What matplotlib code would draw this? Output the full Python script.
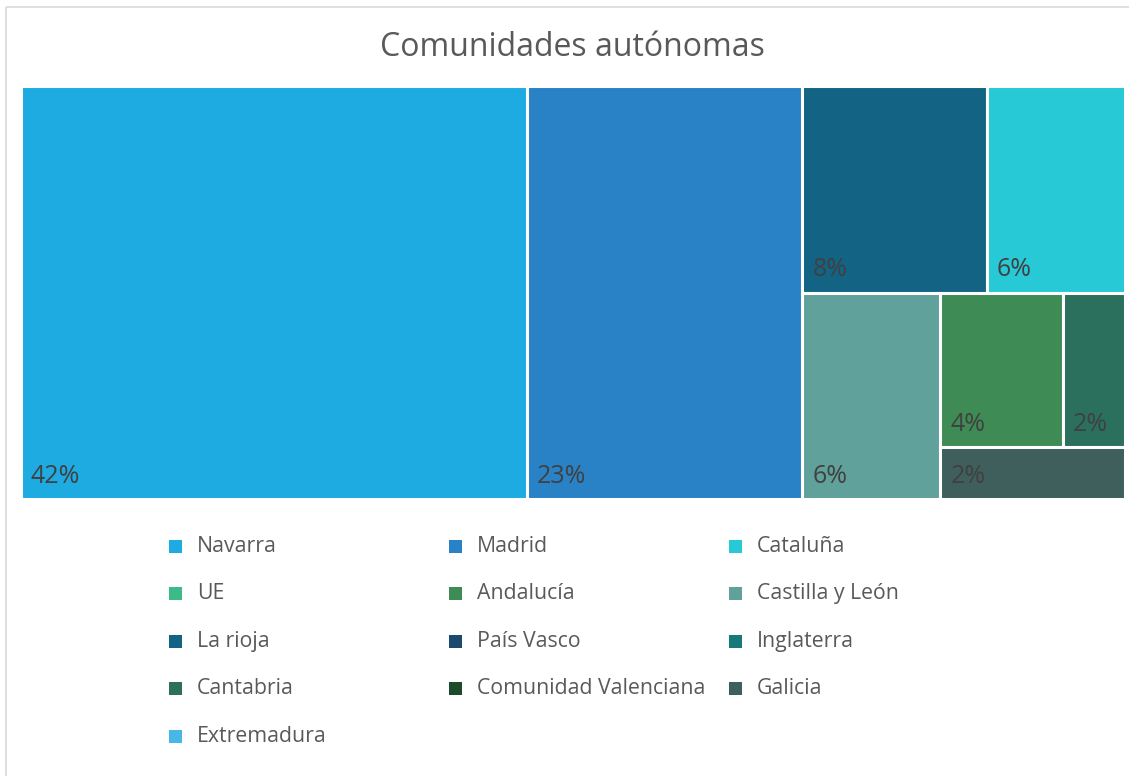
import matplotlib.pyplot as plt
from matplotlib.patches import Rectangle

# Datos: respuestas por comunidad (las que aparecen en el treemap)
comunidades = ["Navarra", "Madrid", "La rioja", "Cataluña", "Castilla y León",
               "Andalucía", "Cantabria", "Galicia"]
valores = [22, 12, 4, 3, 3, 2, 1, 1]
etiquetas = ["42%", "23%", "8%", "6%", "6%", "4%", "2%", "2%"]
colores = ["#1eabe2", "#2a82c6", "#136384", "#27c9d6", "#61a19b",
           "#3e8b55", "#2a705d", "#3e5f5c"]

# Leyenda (orden de Excel, por filas)
leyenda = ["Navarra", "Madrid", "Cataluña", "UE", "Andalucía", "Castilla y León",
           "La rioja", "País Vasco", "Inglaterra", "Cantabria",
           "Comunidad Valenciana", "Galicia", "Extremadura"]
leyenda_colores = ["#1eabe2", "#2a82c6", "#27c9d6", "#3dba8a", "#3e8b55", "#61a19b",
                   "#136384", "#1b4a6e", "#17797a", "#2a705d",
                   "#1e4a2c", "#3e5f5c", "#49b6e8"]

# Estructura del treemap: 'h' divide en horizontal, 'v' en vertical
estructura = ("h", [0, 1, ("v", [("h", [2, 3]),
                                 ("h", [4, ("v", [("h", [5, 6]), 7])])])])

plt.rcParams['font.family'] = ['Open Sans', 'DejaVu Sans']


def suma(nodo):
    if isinstance(nodo, int):
        return valores[nodo]
    return sum(suma(n) for n in nodo[1])


def layout(nodo, x, y, w, h, out):
    # Reparte el rectangulo segun los valores de cada hijo
    if isinstance(nodo, int):
        out[nodo] = (x, y, w, h)
        return
    tipo, hijos = nodo
    total = suma(nodo)
    if tipo == "h":
        pos = x
        for n in hijos:
            ancho = w * suma(n) / total
            layout(n, pos, y, ancho, h, out)
            pos += ancho
    else:
        pos = y + h
        for n in hijos:
            alto = h * suma(n) / total
            layout(n, x, pos - alto, w, alto, out)
            pos -= alto


rects = {}
layout(estructura, 0, 0, 1, 1, rects)

W, H = 1129, 776
fig = plt.figure(figsize=(W / 100, H / 100), dpi=100)

# Capa en pixeles para marco, titulo y leyenda
base = fig.add_axes([0, 0, 1, 1])
base.set_xlim(0, W)
base.set_ylim(H, 0)
base.axis("off")
base.add_patch(Rectangle((6, 7), W + 20, H + 20, fill=False, edgecolor="#d9d9d9", lw=1.2))
base.text(572, 48, "Comunidades autónomas", ha="center", va="center",
          fontsize=23, color="#595959")

ax = fig.add_axes([20.5 / W, (H - 499) / H, 1104 / W, 413 / H])
ax.set_xlim(0, 1)
ax.set_ylim(0, 1)
ax.axis("off")

for i in range(len(valores)):
    x, y, w, h = rects[i]
    ax.add_patch(Rectangle((x, y), w, h, facecolor=colores[i], edgecolor="white", lw=2.2))
    ax.annotate(etiquetas[i], xy=(x, y), xytext=(10, 16), textcoords="offset pixels",
                ha="left", va="baseline", fontsize=18, color="#404040")

for i, nombre in enumerate(leyenda):
    fila, col = i // 3, i % 3
    lx = 169 + col * 280
    ly = 546 + fila * 47.6
    base.add_patch(Rectangle((lx, ly - 6.5), 13, 13, facecolor=leyenda_colores[i], edgecolor="none"))
    base.text(lx + 28, ly, nombre, ha="left", va="center", fontsize=15.3, color="#595959")

fig.savefig("out.png", dpi=100)
